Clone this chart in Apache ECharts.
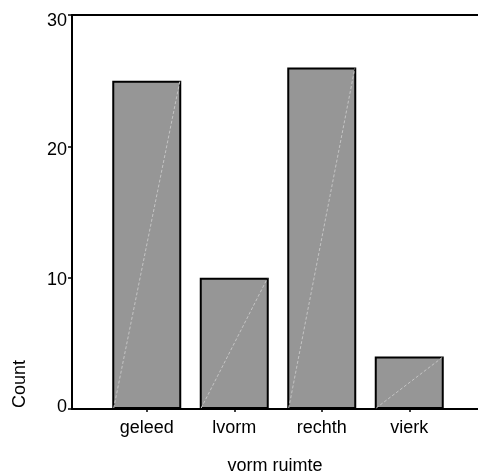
<!DOCTYPE html>
<html>
<head>
<meta charset="utf-8">
<script src="https://cdn.jsdelivr.net/npm/echarts@6/dist/echarts.min.js"></script>
<style>
html,body{margin:0;padding:0;background:#fff;}
#chart{width:478px;height:474px;}
</style>
</head>
<body>
<div id="chart"></div>
<script>
var categories = ['geleed', 'lvorm', 'rechth', 'vierk'];
var counts = [25, 10, 26, 4];
var yTicks = [0, 10, 20, 30];
var xTitle = 'vorm ruimte';
var yTitle = 'Count';

var FONT = 'Liberation Sans, Arial, sans-serif';
var chart = echarts.init(document.getElementById('chart'), null, {renderer: 'canvas'});

var labelRich = {
  t0: {fontFamily: FONT, fontSize: 18, color: '#000', padding: [0, 0, 4, 0]},
  t10: {fontFamily: FONT, fontSize: 18, color: '#000', padding: [4, 0, 0, 0]},
  t20: {fontFamily: FONT, fontSize: 18, color: '#000', padding: [8, 0, 0, 0]},
  t30: {fontFamily: FONT, fontSize: 18, color: '#000', padding: [12, 0, 0, 0]}
};

var option = {
  animation: false,
  backgroundColor: '#fff',
  grid: [
    {left: 72, right: 0, top: 15, bottom: 65, containLabel: false, outerBoundsMode: 'none'},
    {left: 103, right: 25, top: 15, bottom: 65, containLabel: false, outerBoundsMode: 'none'}
  ],
  xAxis: [
    {
      gridIndex: 0, type: 'value', min: 0, max: 1, position: 'bottom',
      axisLine: {show: true, onZero: false, lineStyle: {color: '#000', width: 2}},
      axisTick: {show: false}, axisLabel: {show: false}, splitLine: {show: false},
      name: xTitle, nameLocation: 'middle', nameGap: 48,
      nameTextStyle: {fontFamily: FONT, fontSize: 18, color: '#000'}
    },
    {
      gridIndex: 0, type: 'value', min: 0, max: 1, position: 'top',
      axisLine: {show: true, onZero: false, lineStyle: {color: '#000', width: 2}},
      axisTick: {show: false}, axisLabel: {show: false}, splitLine: {show: false}
    },
    {
      gridIndex: 1, type: 'category', data: categories, position: 'bottom',
      axisLine: {show: false, onZero: false},
      axisTick: {show: true, alignWithLabel: true, length: 3, lineStyle: {color: '#000', width: 1.5}},
      axisLabel: {margin: 10, fontFamily: FONT, fontSize: 18, color: '#000'},
      splitLine: {show: false}
    }
  ],
  yAxis: [
    {
      gridIndex: 0, type: 'value', min: 0, max: 30, interval: 10,
      axisLine: {show: true, lineStyle: {color: '#000', width: 2}},
      axisTick: {show: true, length: 4, lineStyle: {color: '#000', width: 1.5}},
      axisLabel: {
        margin: 5, fontFamily: FONT, fontSize: 18, color: '#000', rich: labelRich,
        formatter: function (v) { return yTicks.indexOf(v) >= 0 ? '{t' + v + '|' + v + '}' : ''; }
      },
      splitLine: {show: false}
    },
    {
      gridIndex: 1, type: 'value', min: 0, max: 30, interval: 10, show: false
    }
  ],
  series: [
    {
      type: 'bar', xAxisIndex: 2, yAxisIndex: 1, data: counts, barWidth: 69,
      itemStyle: {color: '#969696', borderColor: '#000', borderWidth: 2},
      silent: true
    },
    {
      type: 'custom', xAxisIndex: 2, yAxisIndex: 1, silent: true, z: 3,
      data: counts.map(function (v, i) { return [i, v]; }),
      renderItem: function (params, api) {
        var top = api.coord([api.value(0), api.value(1)]);
        var bot = api.coord([api.value(0), 0]);
        var hw = 69 / 2 - 1.5;
        return {
          type: 'line',
          shape: {x1: bot[0] - hw, y1: bot[1] - 1, x2: top[0] + hw, y2: top[1] + 1},
          style: {stroke: '#c4c4c4', lineWidth: 1, lineDash: [3, 2]}
        };
      }
    }
  ],
  graphic: [
    {
      type: 'text', x: 20, y: 384, rotation: Math.PI / 2,
      style: {text: yTitle, fontFamily: FONT, fontSize: 18, fill: '#000', textAlign: 'center', textVerticalAlign: 'middle'}
    }
  ]
};
chart.setOption(option);
</script>
</body>
</html>
